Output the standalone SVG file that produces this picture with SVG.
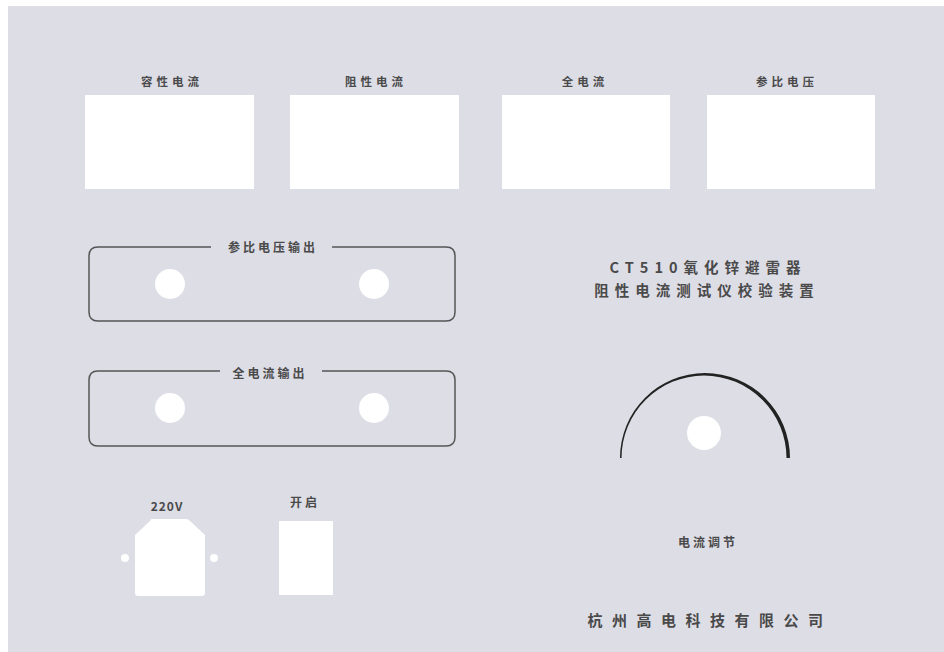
<svg xmlns="http://www.w3.org/2000/svg" width="944" height="652" viewBox="0 0 944 652">
<style>
.t{font-family:"Noto Sans CJK SC","Liberation Sans",sans-serif;fill:#4a4a4a;font-weight:bold;text-anchor:middle;dominant-baseline:central}
.s{font-size:11.5px;letter-spacing:4px}
.m{font-size:12px;letter-spacing:3px}
.b{font-size:14.5px;letter-spacing:6px}
.w{fill:#ffffff}
.fr{fill:none;stroke:#555;stroke-width:1.5}
</style>
<rect x="0" y="0" width="944" height="652" fill="#ffffff"/>
<rect x="8" y="6" width="936" height="646" fill="#dddde6"/>
<g id="disp1"><text class="t s" x="172" y="81">容性电流</text><rect class="w" x="85" y="95" width="169" height="94"/></g>
<g id="disp2"><text class="t s" x="376" y="81">阻性电流</text><rect class="w" x="290" y="95" width="169" height="94"/></g>
<g id="disp3"><text class="t s" x="585" y="81">全电流</text><rect class="w" x="502" y="95" width="168" height="94"/></g>
<g id="disp4"><text class="t s" x="787" y="81">参比电压</text><rect class="w" x="707" y="95" width="168" height="94"/></g>
<g id="out1">
<path class="fr" d="M211 247 H98 Q89 247 89 256 V312 Q89 321 98 321 H446 Q455 321 455 312 V256 Q455 247 446 247 H332"/>
<text class="t m" x="273" y="246">参比电压输出</text>
<circle class="w" cx="170" cy="284" r="15"/><circle class="w" cx="374" cy="284" r="15"/>
</g>
<g id="out2">
<path class="fr" d="M220 371 H98 Q89 371 89 380 V437 Q89 446 98 446 H446 Q455 446 455 437 V380 Q455 371 446 371 H322"/>
<text class="t m" x="270" y="372">全电流输出</text>
<circle class="w" cx="170" cy="408" r="15"/><circle class="w" cx="374" cy="408" r="15"/>
</g>
<g id="title">
<text class="t b" x="708" y="266">CT510氧化锌避雷器</text>
<text class="t b" x="707" y="289">阻性电流测试仪校验装置</text>
</g>
<g id="dial">
<path fill="#222" d="M620 458 A85 85 0 0 1 790 458 L786.5 458 A82.5 82.5 0 0 0 621.5 458 Z"/>
<circle class="w" cx="704" cy="433" r="17"/>
<text class="t m" x="708" y="541">电流调节</text>
</g>
<g id="power">
<text class="t" style="font-size:12px;letter-spacing:1px" x="167" y="505">220V</text>
<path class="w" d="M152 519 H186 Q188 519 190 521 L205 535 V593 Q205 596 202 596 H138 Q135 596 135 593 V535 L150 521 Q150 519 152 519 Z"/>
<circle class="w" cx="125" cy="558" r="4"/><circle class="w" cx="214" cy="558" r="4"/>
</g>
<g id="switch">
<text class="t m" x="305" y="501">开启</text>
<rect class="w" x="279" y="521" width="54" height="74"/>
</g>
<g id="company"><text class="t" style="font-size:15px;letter-spacing:9.5px" x="710" y="619">杭州高电科技有限公司</text></g>
<g id="connectors"/>
</svg>
